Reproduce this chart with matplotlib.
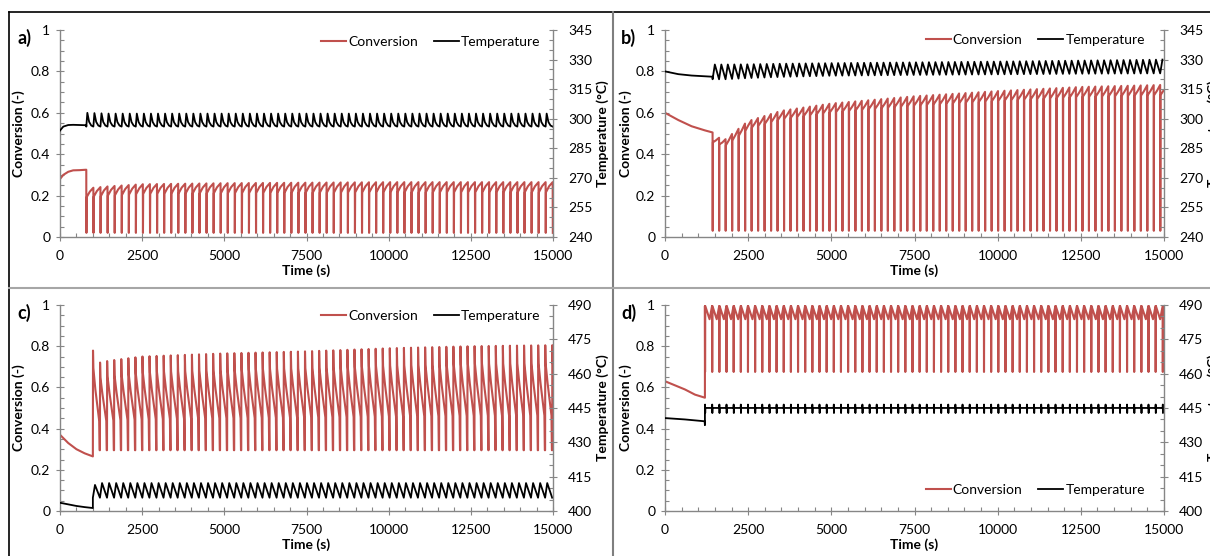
import numpy as np
import matplotlib
matplotlib.use("Agg")
import matplotlib.pyplot as plt
from matplotlib.lines import Line2D
from matplotlib.ticker import MultipleLocator

plt.rcParams['font.family'] = ['Lato', 'DejaVu Sans']

W, H = 1210, 556
RED = '#C0504D'
AXC = '#868686'

# ---------------- data ----------------
# panel a
a_pre_t = [0, 100, 250, 400, 600, 800]
a_pre_conv = [0.28, 0.30, 0.315, 0.322, 0.323, 0.325]
a_pre_temp = [294.0, 296.0, 296.8, 296.9, 296.8, 296.7]
a_start, a_period = 800, 215
a_env_t = [800, 1500, 2500, 5000, 10000, 15000]
a_conv_lo = [0.02, 0.02, 0.02, 0.02, 0.02, 0.02]
a_conv_hi = [0.235, 0.245, 0.255, 0.26, 0.265, 0.265]
a_temp_lo = [296.0, 296.0, 296.0, 296.0, 296.0, 296.0]
a_temp_hi = [303.0, 302.6, 302.6, 302.6, 302.6, 302.6]
a_conv_shape_ph = [0, 0.02, 0.05, 0.5]
a_conv_shape_lv = [1.0, 0.0, 0.8, 0.92]
a_temp_shape_ph = [0, 0.15, 0.4, 0.7]
a_temp_shape_lv = [0.0, 1.0, 0.35, 0.08]

# panel b
b_pre_t = [0, 400, 800, 1200, 1430]
b_pre_conv = [0.60, 0.565, 0.535, 0.515, 0.505]
b_pre_temp = [324.0, 322.6, 321.9, 321.5, 321.3]
b_start, b_period = 1430, 195
b_env_t = [1430, 1800, 2500, 3500, 5000, 7500, 10000, 12500, 15000]
b_conv_lo = [0.03, 0.03, 0.03, 0.03, 0.03, 0.03, 0.03, 0.03, 0.03]
b_conv_hi = [0.49, 0.47, 0.56, 0.61, 0.645, 0.68, 0.705, 0.725, 0.735]
b_temp_lo = [320.0, 320.0, 320.6, 321.2, 321.8, 322.2, 322.5, 322.8, 323.0]
b_temp_hi = [327.5, 327.5, 327.6, 327.9, 328.2, 328.6, 329.0, 329.5, 330.0]
b_conv_shape_ph = [0, 0.02, 0.05, 0.5]
b_conv_shape_lv = [1.0, 0.0, 0.93, 0.96]
b_temp_shape_ph = [0, 0.35]
b_temp_shape_lv = [0.0, 1.0]

# panel c
c_pre_t = [0, 250, 500, 750, 1000]
c_pre_conv = [0.37, 0.33, 0.30, 0.28, 0.265]
c_pre_temp = [403.6, 402.9, 402.2, 401.7, 401.3]
c_start, c_period = 1000, 215
c_env_t = [1000, 1200, 1500, 2500, 5000, 7500, 10000, 12500, 15000]
c_conv_lo = [0.295, 0.295, 0.295, 0.295, 0.295, 0.295, 0.295, 0.295, 0.295]
c_conv_hi = [0.78, 0.72, 0.73, 0.75, 0.765, 0.775, 0.79, 0.80, 0.805]
c_temp_lo = [405.8, 405.8, 405.8, 405.8, 405.8, 405.8, 405.8, 405.8, 405.8]
c_temp_hi = [411.0, 412.2, 412.2, 412.2, 412.2, 412.2, 412.2, 412.2, 412.2]
c_conv_shape_ph = [0, 0.02, 0.07, 0.35, 0.9, 0.96]
c_conv_shape_lv = [0.0, 1.0, 0.83, 0.64, 0.33, 0.0]
c_temp_shape_ph = [0, 0.3]
c_temp_shape_lv = [0.0, 1.0]

# panel d
d_pre_t = [0, 300, 600, 900, 1190, 1200]
d_pre_conv = [0.63, 0.61, 0.59, 0.565, 0.55, 0.55]
d_pre_temp = [440.6, 440.3, 440.0, 439.6, 439.2, 437.5]
d_start, d_period = 1200, 215
d_env_t = [1200, 5000, 10000, 15000]
d_conv_lo = [0.675, 0.675, 0.675, 0.675]
d_conv_hi = [0.995, 0.995, 0.995, 0.995]
d_temp_lo = [442.8, 442.8, 442.8, 442.8]
d_temp_hi = [446.5, 446.5, 446.5, 446.5]
d_conv_shape_ph = [0, 0.02, 0.05, 0.65]
d_conv_shape_lv = [1.0, 0.0, 1.0, 0.8]
d_temp_shape_ph = [0, 0.02, 0.04, 0.06]
d_temp_shape_lv = [0.6, 1.0, 0.0, 0.6]

x_max = 15000
conv_lim = (0, 1)
temp_lims = {'a': (240, 345), 'b': (240, 345), 'c': (400, 490), 'd': (400, 490)}
panel_labels = ['a)', 'b)', 'c)', 'd)']


def build(pre_t, pre_v, start, period, env_t, lo, hi, ph, lv):
    ts = list(pre_t)
    vs = list(pre_v)
    k = 0
    while start + k * period <= x_max:
        t0 = start + k * period
        for p, l in zip(ph, lv):
            t = t0 + p * period
            if t > x_max:
                break
            l_ = np.interp(t, env_t, lo)
            h_ = np.interp(t, env_t, hi)
            ts.append(t)
            vs.append(l_ + l * (h_ - l_))
        k += 1
    return np.array(ts), np.array(vs)


panels = {
    'a': dict(box=(60, 30, 553, 237), leg=(0.975, 0.943),
              conv=build(a_pre_t, a_pre_conv, a_start, a_period, a_env_t, a_conv_lo, a_conv_hi, a_conv_shape_ph, a_conv_shape_lv),
              temp=build(a_pre_t, a_pre_temp, a_start, a_period, a_env_t, a_temp_lo, a_temp_hi, a_temp_shape_ph, a_temp_shape_lv)),
    'b': dict(box=(665, 30, 1164, 237), leg=(0.962, 0.95),
              conv=build(b_pre_t, b_pre_conv, b_start, b_period, b_env_t, b_conv_lo, b_conv_hi, b_conv_shape_ph, b_conv_shape_lv),
              temp=build(b_pre_t, b_pre_temp, b_start, b_period, b_env_t, b_temp_lo, b_temp_hi, b_temp_shape_ph, b_temp_shape_lv)),
    'c': dict(box=(60, 305, 553, 511), leg=(0.975, 0.947),
              conv=build(c_pre_t, c_pre_conv, c_start, c_period, c_env_t, c_conv_lo, c_conv_hi, c_conv_shape_ph, c_conv_shape_lv),
              temp=build(c_pre_t, c_pre_temp, c_start, c_period, c_env_t, c_temp_lo, c_temp_hi, c_temp_shape_ph, c_temp_shape_lv)),
    'd': dict(box=(665, 305, 1164, 511), leg=(0.962, 0.102),
              conv=build(d_pre_t, d_pre_conv, d_start, d_period, d_env_t, d_conv_lo, d_conv_hi, d_conv_shape_ph, d_conv_shape_lv),
              temp=build(d_pre_t, d_pre_temp, d_start, d_period, d_env_t, d_temp_lo, d_temp_hi, d_temp_shape_ph, d_temp_shape_lv)),
}

fig = plt.figure(figsize=(W / 100, H / 100), dpi=100)


def fline(x0, y0, x1, y1, color, lw):
    fig.add_artist(Line2D([x0 / W, x1 / W], [1 - y0 / H, 1 - y1 / H],
                          color=color, lw=lw, transform=fig.transFigure))


fline(9, 12, W, 12, 'black', 1.2)
fline(9, 12, 9, H, 'black', 1.2)
fline(613, 12, 613, H, '#7f7f7f', 1.5)
fline(9, 288, W, 288, '#a6a6a6', 1.5)

FS = 10
for (key, p), plabel in zip(panels.items(), panel_labels):
    x0, y0, x1, y1 = p['box']
    aw, ah = x1 - x0, y1 - y0
    ax = fig.add_axes([x0 / W, 1 - y1 / H, aw / W, ah / H])
    ax2 = ax.twinx()
    ax.set_facecolor('none')
    ax.set_xlim(0, x_max)
    ax.set_ylim(*conv_lim)
    tl = temp_lims[key]
    ax2.set_ylim(*tl)

    ct, cv = p['conv']
    tt, tv = p['temp']
    l1, = ax.plot(ct, cv, color=RED, lw=1.5, label='Conversion')
    l2, = ax2.plot(tt, tv, color='black', lw=1.3, label='Temperature')

    ax.xaxis.set_major_locator(MultipleLocator(2500))
    ax.xaxis.set_minor_locator(MultipleLocator(500))
    ax.yaxis.set_major_locator(MultipleLocator(0.2))
    ax.yaxis.set_minor_locator(MultipleLocator(0.05))
    ax2.yaxis.set_major_locator(MultipleLocator(15, offset=tl[0] % 15))
    ax2.yaxis.set_minor_locator(MultipleLocator(5))
    ax.yaxis.set_major_formatter(plt.FuncFormatter(lambda v, pos: ('%g' % round(v, 2))))

    for s in ['top', 'right']:
        ax.spines[s].set_visible(False)
    for s in ['top', 'left', 'bottom']:
        ax2.spines[s].set_visible(False)
    for s in ['left', 'bottom']:
        ax.spines[s].set_color(AXC)
        ax.spines[s].set_linewidth(1.0)
    ax2.spines['right'].set_color(AXC)
    ax2.spines['right'].set_linewidth(1.0)

    ax.tick_params(axis='both', which='major', direction='inout', length=6, width=0.8,
                   color=AXC, labelsize=FS, labelcolor='black')
    ax.tick_params(axis='both', which='minor', direction='in', length=3, width=0.8, color=AXC)
    ax.tick_params(axis='y', which='major', pad=4)
    ax.tick_params(axis='x', which='major', pad=6)
    ax2.tick_params(axis='y', which='major', direction='inout', length=6, width=0.8,
                    color=AXC, labelsize=FS, labelcolor='black', pad=8)
    ax2.tick_params(axis='y', which='minor', direction='in', length=3, width=0.8, color=AXC)

    ax.set_xlabel('Time (s)', fontsize=FS, fontweight='bold')
    ax.xaxis.set_label_coords(0.5, -(264 - 237) / 207)
    ax.set_ylabel('Conversion (-)', fontsize=FS, fontweight='bold')
    left_center = 18 if x0 < 600 else 625
    ax.yaxis.set_label_coords((left_center + 7 - x0) / aw, 0.5)
    ax2.set_ylabel('Temperature (°C)', fontsize=FS, fontweight='bold')
    ax2.yaxis.set_label_coords(1 + (603 - 7 - 553) / 493, 0.5)

    ax.text(-0.073, 0.96, plabel, transform=ax.transAxes, fontsize=13,
            fontweight='bold', ha='center', va='center')

    ax2.legend([l1, l2], ['Conversion', 'Temperature'], loc='center right',
               bbox_to_anchor=p['leg'], ncol=2, frameon=False, fontsize=FS,
               handlelength=1.8, handletextpad=0.15, columnspacing=1.15,
               borderpad=0.0, borderaxespad=0.0)

fig.savefig('out.png', dpi=100)
